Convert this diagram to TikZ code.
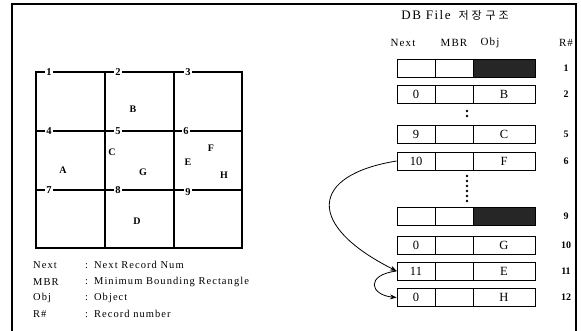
\documentclass[tikz,border=0pt]{standalone}
\usepackage{fontspec}
\setmainfont{Liberation Serif}
\newfontfamily\krfont[LetterSpace=25]{Noto Sans CJK KR}
\newfontfamily\spacedfont[LetterSpace=10]{Liberation Serif}
\usetikzlibrary{arrows.meta}

\begin{document}
\begin{tikzpicture}[
    x=1pt, y=-1pt,
    >=Stealth,
    gridlabel/.style={fill=white, inner sep=1.5pt, font=\bfseries\fontsize{10.5}{10.5}\selectfont},
    celltext/.style={inner sep=0pt, font=\bfseries\fontsize{10}{10}\selectfont},
    recbox/.style={draw, line width=0.8pt, minimum height=18pt, inner sep=0pt,
                   font=\fontsize{12.5}{12.5}\selectfont},
    nextbox/.style={recbox, minimum width=38pt},
    mbrbox/.style={recbox, minimum width=38pt},
    objbox/.style={recbox, minimum width=62pt},
    rnum/.style={font=\bfseries\fontsize{10}{10}\selectfont},
    headtext/.style={font=\spacedfont\fontsize{11}{11}\selectfont},
    legtext/.style={anchor=west, inner sep=0pt, font=\spacedfont\fontsize{10.5}{11}\selectfont},
]
\useasboundingbox (0,0) rectangle (581,331);

% ---- Frame ----
\draw[line width=1.1pt] (12,331) -- (12,4) -- (576,4) -- (576,331);

% ---- Grid of the area ----
\draw[line width=1.1pt] (36,72) rectangle (242,248);
\foreach \x in {105,174}
    \draw[line width=1.1pt] (\x,72) -- (\x,248);
\foreach \y in {131,190}
    \draw[line width=1.1pt] (36,\y) -- (242,\y);

% grid point numbers
\foreach \n/\x/\y in {1/49/72, 2/118/72, 3/188/72,
                      4/49/131, 5/118/131, 6/186/131,
                      7/49/190, 8/118/190, 9/188/192}
    \node[gridlabel] (g\n) at (\x,\y) {\n};

% objects inside the cells
\node[celltext] (cA) at (63,170)  {A};
\node[celltext] (cB) at (133,109) {B};
\node[celltext] (cC) at (112,152) {C};
\node[celltext] (cD) at (137,221) {D};
\node[celltext] (cE) at (188,162) {E};
\node[celltext] (cF) at (211,148) {F};
\node[celltext] (cG) at (143,172) {G};
\node[celltext] (cH) at (224,175) {H};

% ---- DB file structure ----
\node (title) at (455,15)
    {\spacedfont\addfontfeature{LetterSpace=12}\fontsize{13}{13}\selectfont DB File\hspace{8pt}\krfont\fontsize{11}{11}\selectfont 저장\hspace{4pt}구조};

\node[headtext] (hnext) at (403,43) {Next};
\node[headtext] (hmbr)  at (454,43) {MBR};
\node[headtext] (hobj)  at (490,43) {Obj};
\node[headtext] (hrn)   at (566,43) {R\#};

% records
\foreach \r/\y/\nx/\ob/\fl in {1/68/{}/{}/black!85, 2/94/0/B/white,
                               5/134/9/C/white, 6/161/10/F/white,
                               9/216/{}/{}/black!85, 10/245.5/0/G/white,
                               11/271/11/E/white, 12/297.5/0/H/white}
{
    \node[nextbox] (next\r) at (416,\y) {\nx};
    \node[mbrbox]  (mbr\r)  at (454,\y) {};
    \node[objbox, fill=\fl] (obj\r) at (504,\y) {\ob};
    \node[rnum]    (rn\r)   at (566,\y) {\r};
}

% omitted records
\foreach \y in {111,116}
    \fill (467,\y) circle (1.4pt);
\foreach \y in {176,181,186,191,196,201}
    \fill (467,\y) circle (1.4pt);

% next-record links
\draw[->, line width=0.8pt] (next6.west) .. controls (310,175) and (305,225) .. (next11.west);
\draw[->, line width=0.8pt] (next11.west) .. controls (365,275) and (370,295) .. (next12.west);

% ---- Legend ----
\node[legtext] (lnext) at (33,265) {Next};
\node[legtext] (lmbr)  at (33,282) {MBR};
\node[legtext] (lobj)  at (33,298) {Obj};
\node[legtext] (lrn)   at (33,314) {R\#};
\foreach \n/\y/\t in {next/265/Next Record Num, mbr/282/Minimum Bounding Rectangle,
                      obj/298/Object, rn/314/Record number}
    \node[legtext] (d\n) at (85,\y) {:\hspace{6pt}\t};

\end{tikzpicture}
\end{document}
